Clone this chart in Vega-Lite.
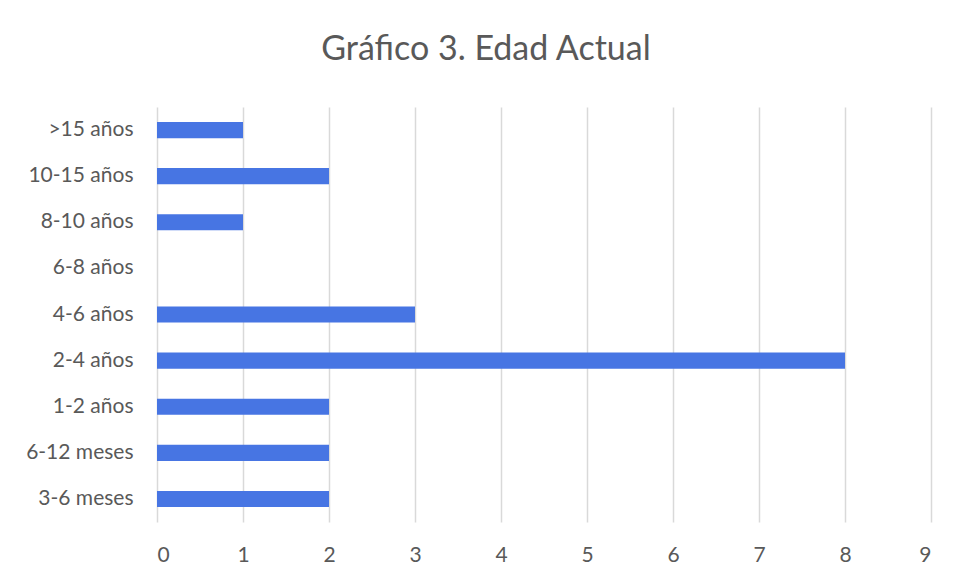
{
  "$schema": "https://vega.github.io/schema/vega-lite/v6.json",
  "autosize": {"type": "none"},
  "width": 774,
  "height": 415,
  "padding": {"left": 157, "top": 107, "right": 24, "bottom": 55},
  "background": "white",
  "title": {
    "text": "Gráfico 3. Edad Actual",
    "font": "Lato",
    "fontSize": 34,
    "fontWeight": "normal",
    "color": "#595959",
    "anchor": "middle",
    "dx": -58,
    "baseline": "alphabetic",
    "offset": 13
  },
  "data": {
    "values": [
      {"edad": "3-6 meses", "n": 2},
      {"edad": "6-12 meses", "n": 2},
      {"edad": "1-2 años", "n": 2},
      {"edad": "2-4 años", "n": 8},
      {"edad": "4-6 años", "n": 3},
      {"edad": "6-8 años", "n": 0},
      {"edad": "8-10 años", "n": 1},
      {"edad": "10-15 años", "n": 2},
      {"edad": ">15 años", "n": 1}
    ]
  },
  "mark": {"type": "bar", "color": "#4775E3"},
  "encoding": {
    "y": {
      "field": "edad",
      "type": "nominal",
      "sort": [">15 años", "10-15 años", "8-10 años", "6-8 años", "4-6 años", "2-4 años", "1-2 años", "6-12 meses", "3-6 meses"],
      "scale": {"paddingInner": 0.65, "paddingOuter": 0.325},
      "axis": {
        "title": null,
        "domain": false,
        "ticks": false,
        "grid": false,
        "labelFont": "Lato",
        "labelFontSize": 21,
        "labelColor": "#595959",
        "labelPadding": 24
      }
    },
    "x": {
      "field": "n",
      "type": "quantitative",
      "scale": {"domain": [0, 9], "nice": false},
      "axis": {
        "title": null,
        "values": [0, 1, 2, 3, 4, 5, 6, 7, 8, 9],
        "domain": false,
        "ticks": false,
        "grid": true,
        "gridColor": "#d9d9d9",
        "gridWidth": 1.5,
        "labelFont": "Lato",
        "labelFontSize": 21,
        "labelColor": "#595959",
        "labelPadding": 22
      }
    }
  },
  "config": {"view": {"stroke": null}}
}
